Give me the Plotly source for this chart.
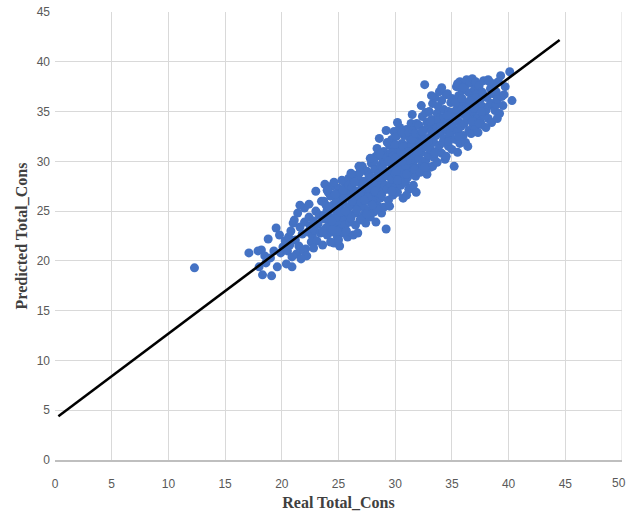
import plotly.graph_objects as go

# Scatter points, grouped by band of Real Total_Cons
band_17_20 = [(17.1,20.8),(17.9,21.0),(18.2,21.1),(18.8,22.2),(18.0,19.4),(18.6,19.8),(18.3,18.6),(19.1,18.5),
              (19.6,19.4),(20.4,19.7),(20.9,19.4),(19.5,23.3),(19.8,22.6),(20.1,21.4),(19.3,21.0),(19.0,20.3),
              (18.5,20.5),(19.9,20.8),(20.5,21.0),(20.3,22.0),(12.3,19.3)]
band_20_23 = [(20.6,22.4),(20.8,23.0),(21.0,23.8),(21.2,22.1),(21.4,24.8),(21.5,21.5),(21.6,23.4),(21.8,22.7),
              (22.0,25.3),(22.0,23.9),(22.1,21.2),(22.3,22.9),(22.4,24.4),(22.5,23.5),(22.6,21.9),(22.7,22.5),
              (22.8,24.0),(22.9,23.1),(23.0,27.0),(23.0,25.0),(21.3,20.7),(20.7,21.6),(21.9,21.0),(22.2,20.5),
              (23.1,22.0),(21.1,24.1),(20.9,20.4),(21.7,20.2),(22.8,21.3),(23.2,23.7),(23.3,24.6),(22.4,25.7),
              (21.6,25.6),(23.4,22.8),(23.5,26.0)]
band_23_26 = [(23.6,21.6),(23.7,26.0),(23.8,27.7),(23.8,24.2),(23.9,23.3),(24.0,25.1),(24.0,22.6),(24.1,24.7),
              (24.2,23.8),(24.3,26.5),(24.4,27.5),(24.4,22.9),(24.5,25.6),(24.6,21.8),(24.6,24.3),(24.7,23.5),
              (24.8,26.2),(24.8,25.0),(24.9,22.4),(25.0,24.0),(25.0,27.3),(25.1,25.5),(25.2,23.2),(25.2,26.8),
              (25.3,24.6),(25.4,22.8),(25.4,25.9),(25.5,24.1),(25.6,27.8),(25.6,23.6),(25.7,26.4),(25.8,25.2),
              (25.8,22.4),(25.9,24.7),(26.0,26.9),(26.0,23.9),(24.1,26.9),(23.9,25.6),(24.3,21.9),(24.9,23.0),
              (25.3,28.1),(25.9,28.3),(24.6,27.9),(25.1,21.5),(24.2,25.4),(24.7,26.7),(25.5,26.3),(25.7,23.0),
              (24.5,23.1),(25.0,22.1),(23.7,24.6),(24.8,24.4),(25.4,27.1),(26.0,25.5),(25.2,24.9),(24.4,24.0),
              (23.6,23.0),(24.0,27.1),(25.6,25.0),(25.9,27.6)]
band_26_29 = [(26.1,24.3),(26.2,27.4),(26.3,22.6),(26.3,25.8),(26.4,28.6),(26.5,26.3),(26.5,24.8),(26.6,27.0),
              (26.7,22.8),(26.7,25.4),(26.8,28.2),(26.8,26.6),(26.9,24.1),(27.0,27.7),(27.0,25.9),(27.1,29.5),
              (27.1,26.9),(27.2,24.6),(27.3,28.0),(27.3,25.3),(27.4,23.8),(27.4,27.3),(27.5,26.2),(27.5,29.0),
              (27.6,25.0),(27.6,27.9),(27.7,26.7),(27.7,28.6),(27.8,24.4),(27.8,27.1),(27.9,25.8),(27.9,29.8),
              (28.0,26.5),(28.0,28.3),(28.1,27.5),(28.1,24.9),(28.2,29.2),(28.2,26.0),(28.3,23.9),(28.3,30.5),
              (28.3,27.9),(28.4,26.9),(28.5,28.7),(28.5,25.5),(28.6,32.3),(28.6,27.3),(28.7,29.6),(28.7,26.3),
              (28.8,28.1),(28.8,24.8),(28.9,30.2),(28.9,27.0),(29.0,25.4),(29.0,28.9),(29.0,31.0),(26.2,26.0),
              (26.4,27.9),(26.6,25.1),(26.9,28.9),(27.2,27.8),(27.6,26.4),(27.9,28.4),(28.1,30.0),(28.4,25.2),
              (28.6,28.4),(28.9,29.3),(26.5,23.6),(27.0,24.2),(27.8,30.3),(28.4,31.3),(29.1,27.6),(26.8,29.5),
              (27.3,26.1),(28.2,27.0),(28.7,30.7),(26.1,28.8),(27.5,24.7),(28.0,25.6),(28.8,26.6),(29.1,29.9)]
band_29_32 = [(29.2,23.2),(29.2,33.1),(29.3,27.2),(29.3,30.4),(29.4,28.5),(29.4,26.1),(29.5,31.6),(29.5,29.0),
              (29.6,27.7),(29.6,30.8),(29.7,28.2),(29.7,32.2),(29.8,26.6),(29.8,29.6),(29.9,33.0),(29.9,31.0),
              (30.0,28.8),(30.0,27.4),(30.1,30.1),(30.1,32.5),(30.2,29.3),(30.2,26.9),(30.3,31.4),(30.3,28.0),
              (30.4,30.6),(30.4,33.4),(30.5,29.7),(30.5,27.6),(30.6,31.8),(30.6,28.6),(30.7,30.3),(30.7,26.3),
              (30.8,32.6),(30.8,29.1),(30.9,31.1),(30.9,27.9),(31.0,30.0),(31.0,33.2),(31.1,28.4),(31.1,31.6),
              (31.2,29.5),(31.2,27.2),(31.3,32.3),(31.3,30.7),(31.4,28.9),(31.4,33.8),(31.5,34.7),(31.5,31.2),
              (31.6,29.9),(31.6,27.6),(31.7,32.6),(31.7,30.4),(31.8,28.5),(31.85,26.9),(31.9,33.8),(31.9,31.5),
              (32.0,29.3),(32.0,32.1),(29.3,31.9),(29.5,25.5),(29.8,30.5),(30.0,31.7),(30.2,33.9),(30.4,29.0),
              (30.6,32.9),(30.8,30.9),(31.0,28.7),(31.2,32.9),(31.4,30.2),(31.6,33.1),(31.8,31.9),(30.1,29.0),
              (30.5,31.0),(30.9,29.6),(31.3,31.5),(31.7,29.2),(29.6,29.8),(30.3,30.0),(30.7,31.5),(31.1,30.1),
              (31.5,32.2),(31.9,30.6),(29.4,30.0),(30.0,30.3),(30.6,30.0),(31.2,31.0),(31.8,32.8),(29.7,27.0),
              (30.2,28.1),(31.0,26.6)]
band_32_35 = [(32.1,30.3),(32.1,33.6),(32.2,31.8),(32.2,28.9),(32.3,32.7),(32.3,30.9),(32.4,34.5),(32.4,29.8),
              (32.5,31.4),(32.5,33.1),(32.6,37.7),(32.6,32.2),(32.7,30.1),(32.7,34.9),(32.8,31.7),(32.8,28.7),
              (32.9,33.5),(32.9,30.6),(33.0,35.0),(33.0,32.4),(33.1,29.4),(33.1,31.2),(33.2,34.2),(33.2,33.0),
              (33.3,29.5),(33.3,35.8),(33.4,31.9),(33.4,30.4),(33.5,33.7),(33.5,36.4),(33.6,32.6),(33.6,31.0),
              (33.7,34.8),(33.7,29.9),(33.8,33.2),(33.8,35.5),(33.9,37.0),(33.9,31.6),(34.0,32.9),(34.0,34.4),
              (34.1,30.8),(34.1,36.1),(34.2,33.6),(34.2,31.9),(34.3,35.2),(34.3,32.3),(34.4,34.0),(34.4,30.2),
              (34.5,30.5),(34.5,36.7),(34.6,36.8),(34.6,33.1),(34.7,35.0),(34.7,31.5),(34.8,34.3),(34.8,32.6),
              (34.9,35.9),(34.9,33.8),(35.0,31.2),(35.0,34.9),(32.3,35.6),(32.6,29.4),(32.9,32.0),(33.2,36.6),
              (33.5,30.8),(33.8,34.1),(34.1,37.4),(34.4,33.3),(34.7,32.0),(35.0,36.3),(32.4,33.0),(32.8,33.9),
              (33.1,34.0),(33.4,32.9),(33.7,33.4),(34.0,33.5),(34.3,34.4),(34.6,34.6),(34.9,32.9),(32.0,31.0)]
band_35_38 = [(35.1,33.4),(35.2,29.5),(35.2,36.1),(35.3,34.5),(35.3,32.2),(35.4,37.5),(35.4,35.2),(35.5,33.0),
              (35.5,30.9),(35.6,36.6),(35.6,34.0),(35.7,38.0),(35.7,31.8),(35.8,35.6),(35.8,33.5),(35.9,37.1),
              (35.9,34.8),(36.0,32.6),(36.0,36.0),(36.1,35.0),(36.1,33.8),(36.2,37.6),(36.2,31.9),(36.3,38.2),
              (36.3,35.4),(36.4,31.5),(36.4,34.2),(36.5,36.9),(36.5,33.1),(36.6,35.8),(36.6,37.9),(36.7,34.6),
              (36.7,32.8),(36.8,36.3),(36.8,38.3),(36.9,35.0),(36.9,33.6),(37.0,37.3),(37.0,34.1),(37.1,38.0),
              (37.1,33.5),(37.2,35.7),(37.2,36.8),(37.3,34.4),(37.3,32.9),(37.4,37.6),(37.4,35.3),(37.5,36.2),
              (37.5,34.0),(37.6,33.7),(37.6,37.0),(37.7,35.5),(37.8,38.1),(37.8,34.7),(37.9,36.5),(38.0,35.1),
              (35.3,35.9),(35.6,32.5),(35.9,36.3),(36.2,34.6),(36.5,35.5),(36.8,34.0),(37.1,36.4),(37.4,33.8),
              (37.7,36.9),(35.5,37.8),(36.0,37.4),(36.6,36.1),(37.0,35.3),(37.6,35.0)]
band_38_41 = [(38.1,36.4),(38.2,38.2),(38.2,34.3),(38.3,35.6),(38.4,37.3),(38.5,35.8),(38.5,33.9),(38.6,36.8),
              (38.7,37.8),(38.8,35.1),(38.9,35.7),(38.9,37.0),(39.0,36.2),(39.1,38.0),(39.2,34.8),(39.3,38.6),
              (39.4,36.5),(39.6,36.7),(39.7,37.5),(40.1,39.0),(40.3,36.1),(38.3,38.0),(38.0,33.4),(39.0,34.3),
              (39.5,35.6)]

# Fitted line end points
fit_x = [0.3, 44.5]
fit_y = [4.4, 42.2]

x_ticks = [0, 5, 10, 15, 20, 25, 30, 35, 40, 45, 50]
y_ticks = [0, 5, 10, 15, 20, 25, 30, 35, 40, 45]

points = band_17_20 + band_20_23 + band_23_26 + band_26_29 + band_29_32 + band_32_35 + band_35_38 + band_38_41
real_cons = [p[0] for p in points]
pred_cons = [p[1] for p in points]

fig = go.Figure()
fig.add_trace(go.Scatter(x=real_cons, y=pred_cons, mode="markers",
                         marker=dict(size=9, color="#4472C4", line=dict(width=0)),
                         showlegend=False, cliponaxis=False))
fig.add_trace(go.Scatter(x=fit_x, y=fit_y, mode="lines",
                         line=dict(color="black", width=2.5), showlegend=False))

tick_font = dict(family="Liberation Sans, Arial, sans-serif", size=12, color="#595959")
title_font = dict(family="Liberation Serif, Times New Roman, serif", size=16, color="#404040")

# last x tick label sits at the right edge of the chart, as in the source
fig.add_annotation(x=x_ticks[-1], y=0, xref="x", yref="y", text=str(x_ticks[-1]), showarrow=False,
                   yshift=-23, xshift=-3, font=tick_font, xanchor="center", yanchor="middle")

fig.update_layout(
    width=627, height=517,
    margin=dict(l=55, r=5, t=12, b=57, autoexpand=False),
    paper_bgcolor="white", plot_bgcolor="white",
    xaxis=dict(range=[0, 50], tickvals=x_ticks[:-1], showgrid=True, gridcolor="#D9D9D9", gridwidth=1,
               zeroline=False, showline=True, linecolor="#BFBFBF", linewidth=1.5, mirror=False,
               tickfont=tick_font, ticks="", ticklabelstandoff=12, automargin=False,
               title=dict(text="<b>Real Total_Cons</b>", font=title_font, standoff=7)),
    yaxis=dict(range=[0, 45], tickvals=y_ticks, showgrid=True, gridcolor="#D9D9D9", gridwidth=1,
               zeroline=False, showline=False, tickfont=tick_font, ticks="", ticklabelstandoff=4,
               automargin=False,
               title=dict(text="<b>Predicted Total_Cons</b>", font=title_font, standoff=5)),
)
fig.add_shape(type="line", xref="x", yref="paper", x0=x_ticks[-1], x1=x_ticks[-1], y0=0, y1=1,
              line=dict(color="#D9D9D9", width=1), layer="below")

fig.write_html("out.html", config={"displayModeBar": False},
               post_script="document.body.style.margin='0';document.body.style.overflow='hidden';")
